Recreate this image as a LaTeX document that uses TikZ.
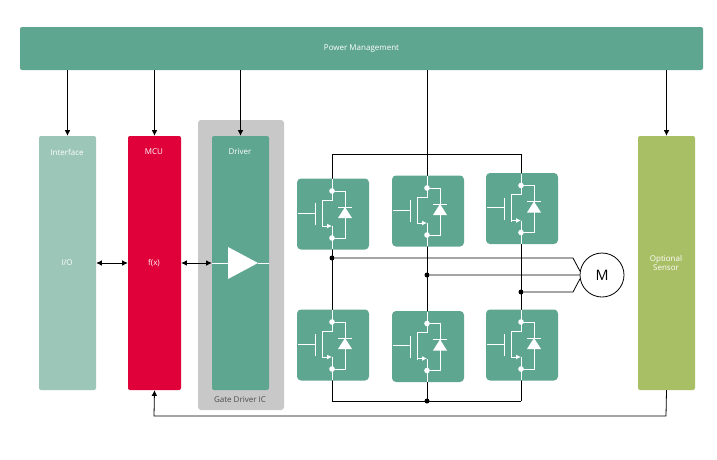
\documentclass[tikz,border=0pt]{standalone}
\usepackage{fontspec}
\setmainfont{Open Sans}
\usetikzlibrary{arrows.meta,positioning}
\definecolor{teal1}{HTML}{5FA690}
\definecolor{iface}{HTML}{9CC7B8}
\definecolor{mcured}{HTML}{E0003A}
\definecolor{sensor}{HTML}{A9BF66}
\definecolor{gdgray}{HTML}{C8C8C8}
\tikzset{>={Latex[width=2mm,length=2mm]}}
\tikzset{block/.style={fill=teal1, draw=none, rounded corners=2pt, text=white,
    font=\footnotesize, inner sep=0pt}}
\tikzset{col/.style={block, minimum width=57pt, minimum height=254pt}}
\tikzset{fetbox/.style={fill=teal1, rounded corners=4pt, minimum width=72pt,
    minimum height=71pt, inner sep=0pt}}
\tikzset{wire/.style={draw=black, line width=1pt}}
\tikzset{dot/.style={circle, fill=black, inner sep=0pt, minimum size=5pt}}
\tikzset{fet/.pic={
    \draw[white, line width=1pt] (-35,-1) -- (-18,-1) (-18,-11) -- (-18,11)
        (-11,-14) -- (-11,13) (-11,-14) -- (-1,-14) -- (-1,-35)
        (-1,12) -- (-1,35) (-1,-23) -- (12,-23) -- (12,24) -- (-1,24);
    \draw[white, line width=1pt, -{Latex[length=5pt,width=5pt]}] (-11,12) -- (-1,12);
    \fill[white] (5,4) -- (19,4) -- (12,-7) -- cycle;
    \draw[white, line width=1pt] (5,-7) -- (19,-7);
    \fill[white] (-1,-23) circle (2.8) (-1,24) circle (2.8);
}}

\begin{document}
\begin{tikzpicture}[x=1pt, y=-1pt]
    \useasboundingbox (0,0) rectangle (717,459);
    \fill[gdgray, rounded corners=3pt] (198,120) rectangle (284,410);

    \node(pm)[block, minimum width=683pt, minimum height=43pt] at (361.5,48.5) {Power Management};
    \node(if)[col, fill=iface] at (67.5,263) {};
    \node(mcu)[col, fill=mcured, minimum width=53pt] at (154.5,263) {};
    \node(drv)[col] at (240.5,263) {};
    \node(sen)[col, fill=sensor] at (666.5,263) {};

    \node(iflab)[text=white, font=\footnotesize] at (67,152) {Interface};
    \node(mculab)[text=white, font=\footnotesize] at (154,152) {MCU};
    \node(drvlab)[text=white, font=\footnotesize] at (240,152) {Driver};
    \node(io)[text=white, font=\footnotesize] at (67,263) {I/O};
    \node(fx)[text=white, font=\footnotesize] at (154,263) {f(x)};
    \node(senlab)[text=white, font=\footnotesize, align=center] at (666,263) {Optional\\Sensor};
    \node(gdic)[text=black!70, font=\footnotesize] at (240,400) {Gate Driver IC};

    % driver symbol
    \fill[white] (228,247) -- (258,263) -- (228,279) -- cycle;
    \draw[white, line width=1pt] (212,263) -- (228,263) (258,263) -- (269,263);

    % supply arrows
    \foreach \b in {if,mcu,drv,sen}
        \draw[->, line width=0.8pt] (pm.south -| \b) -- (\b.north);
    \draw[<->, line width=0.8pt] (if.east |- io) -- (mcu.west |- fx);
    \draw[<->, line width=0.8pt] (mcu.east |- fx) -- (drv.west |- fx);
    \coordinate(fb1) at (666,416);
    \coordinate(fb2) at (154,416);
    \draw[->, line width=0.8pt] (sen.south) -- (fb1) -- (fb2) -- (mcu.south);

    % bridge
    \coordinate(ta) at (332,154);
    \coordinate(tb) at (427,154);
    \coordinate(tc) at (521,154);
    \coordinate(ba) at (332,401);
    \coordinate(bb) at (427,401);
    \coordinate(bc) at (521,401);
    \draw[wire] (ta) -- (tc) (bc) -- (ba);
    \draw[wire] (ta) -- (ba) (pm.south -| tb) -- (bb) (tc) -- (bc);

    \node(pa)[dot] at (332,258) {};
    \node(pb)[dot] at (427,275) {};
    \node(pc)[dot] at (521,292) {};
    \node(bdot)[dot] at (bb) {};
    \node(mot)[circle, draw, line width=0.8pt, minimum size=44pt, inner sep=0pt,
        font=\Large] at (602,275) {M};
    \coordinate(ka) at (573,258);
    \coordinate(kc) at (573,292);
    \draw[line width=0.8pt] (pa) -- (ka) -- (mot.170) (pb) -- (mot.west) (pc) -- (kc) -- (mot.190);

    \foreach \n/\x/\y in {t1/333/214, t2/428/211, t3/522/208.5, b1/333/345, b2/428/346.5, b3/522/345} {
        \node(\n)[fetbox] at (\x,\y) {};
        \pic at (\n) {fet};
    }
\end{tikzpicture}
\end{document}
